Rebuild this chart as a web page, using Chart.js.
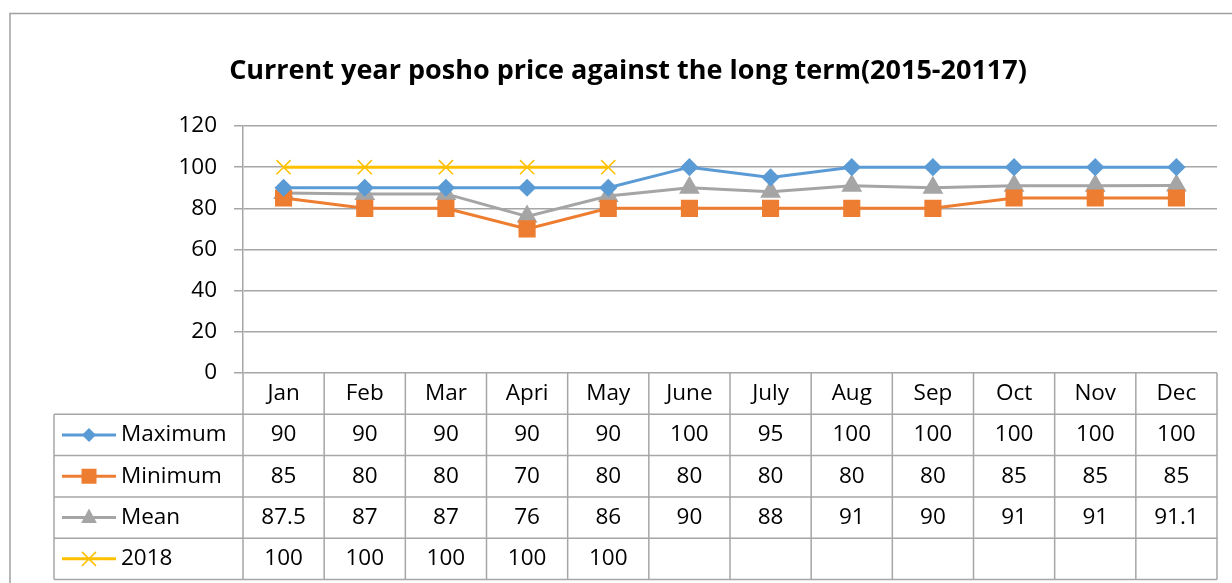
<!DOCTYPE html>
<html>
<head>
<meta charset="utf-8">
<script src="https://cdn.jsdelivr.net/npm/chart.js@4"></script>
<style>
  html, body { margin: 0; padding: 0; background: #fff; }
  #wrap { width: 1232px; height: 583px; }
</style>
</head>
<body>
<div id="wrap"><canvas id="lineChart" width="1232" height="583"></canvas></div>
<script>
const titleText = 'Current year posho price against the long term(2015-20117)';
const months = ['Jan', 'Feb', 'Mar', 'Apri', 'May', 'June', 'July', 'Aug', 'Sep', 'Oct', 'Nov', 'Dec'];
const maximum = [90, 90, 90, 90, 90, 100, 95, 100, 100, 100, 100, 100];
const minimum = [85, 80, 80, 70, 80, 80, 80, 80, 80, 85, 85, 85];
const mean = [87.5, 87, 87, 76, 86, 90, 88, 91, 90, 91, 91, 91.1];
const y2018 = [100, 100, 100, 100, 100, null, null, null, null, null, null, null];
const yTicks = [0, 20, 40, 60, 80, 100, 120];

const FONT = '"Open Sans", Lato, sans-serif';
const gridGray = '#a6a6a6';

// data table under the plot, drawn from the same arrays
const dataTable = {
    id: 'dataTable',
    beforeDraw(chart) {
        const c = chart.ctx;
        c.save();
        c.strokeStyle = '#a0a0a0';
        c.lineWidth = 1.5;
        c.strokeRect(10, 13.5, 1300, 700);
        c.fillStyle = '#000';
        c.font = 'bold 27px ' + FONT;
        c.textAlign = 'center';
        c.textBaseline = 'middle';
        c.fillText(titleText, 628, 71);
        c.restore();
    },
    afterDraw(chart) {
        const c = chart.ctx;
        const x = chart.scales.x;
        const area = chart.chartArea;
        const colW = (area.right - area.left) / months.length;
        const rowH = 41.3;
        const tableLeft = 54;
        const top = area.bottom;
        const rows = chart.data.datasets;
        const bottom = top + rowH * (rows.length + 1);

        c.save();
        c.strokeStyle = gridGray;
        c.lineWidth = 1.5;
        c.beginPath();
        // horizontal lines
        for (let r = 1; r <= rows.length + 1; r++) {
            const y = top + rowH * r;
            c.moveTo(tableLeft, y);
            c.lineTo(area.right, y);
        }
        // vertical lines
        c.moveTo(tableLeft, top + rowH);
        c.lineTo(tableLeft, bottom);
        for (let i = 0; i <= months.length; i++) {
            const xx = area.left + colW * i;
            c.moveTo(xx, top);
            c.lineTo(xx, bottom);
        }
        c.stroke();

        c.fillStyle = '#000';
        c.font = '22.5px ' + FONT;
        c.textBaseline = 'middle';
        c.textAlign = 'center';
        months.forEach((m, i) => {
            c.fillText(m, x.getPixelForValue(i), top + rowH / 2);
        });

        rows.forEach((ds, r) => {
            const cy = top + rowH * (r + 1.5);
            ds.data.forEach((v, i) => {
                if (v === null) return;
                c.fillText(String(v), x.getPixelForValue(i), cy);
            });
            // legend key
            c.strokeStyle = ds.borderColor;
            c.lineWidth = 3;
            c.beginPath();
            c.moveTo(62, cy);
            c.lineTo(116, cy);
            c.stroke();
            drawMarker(c, ds.pointStyle, 89, cy, ds.pointRadius, ds.borderColor);
            c.fillStyle = '#000';
            c.textAlign = 'left';
            c.fillText(ds.label, 121, cy);
            c.textAlign = 'center';
        });
        c.restore();
    }
};

function drawMarker(c, style, x, y, r, color) {
    c.save();
    c.fillStyle = color;
    c.strokeStyle = color;
    c.beginPath();
    if (style === 'rectRot') {
        c.moveTo(x, y - r); c.lineTo(x + r, y); c.lineTo(x, y + r); c.lineTo(x - r, y);
        c.closePath(); c.fill();
    } else if (style === 'rect') {
        c.fillRect(x - r * 0.75, y - r * 0.75, r * 1.5, r * 1.5);
    } else if (style === 'triangle') {
        c.moveTo(x, y - r); c.lineTo(x + r * 0.87, y + r * 0.6); c.lineTo(x - r * 0.87, y + r * 0.6);
        c.closePath(); c.fill();
    } else if (style === 'crossRot') {
        c.lineWidth = 1.5;
        c.moveTo(x - r * 0.7, y - r * 0.7); c.lineTo(x + r * 0.7, y + r * 0.7);
        c.moveTo(x + r * 0.7, y - r * 0.7); c.lineTo(x - r * 0.7, y + r * 0.7);
        c.stroke();
    }
    c.restore();
}

const ctx = document.getElementById('lineChart').getContext('2d');
new Chart(ctx, {
    type: 'line',
    data: {
        labels: months,
        datasets: [{
            label: 'Maximum',
            data: maximum,
            borderColor: '#5b9bd5',
            backgroundColor: '#5b9bd5',
            pointStyle: 'rectRot',
            pointRadius: 7
        }, {
            label: 'Minimum',
            data: minimum,
            borderColor: '#ed7d31',
            backgroundColor: '#ed7d31',
            pointStyle: 'rect',
            pointRadius: 10
        }, {
            label: 'Mean',
            data: mean,
            borderColor: '#a5a5a5',
            backgroundColor: '#a5a5a5',
            pointStyle: 'triangle',
            pointRadius: 9
        }, {
            label: '2018',
            data: y2018,
            borderColor: '#ffc000',
            backgroundColor: '#ffc000',
            pointStyle: 'crossRot',
            pointRadius: 10,
            pointBorderWidth: 1.5
        }]
    },
    options: {
        responsive: false,
        animation: false,
        datasets: { line: { borderWidth: 3, tension: 0, fill: false, spanGaps: false } },
        layout: { padding: { left: 0, right: 15, top: 126, bottom: 210 } },
        plugins: {
            legend: { display: false },
            title: { display: false },
            tooltip: { enabled: false }
        },
        scales: {
            x: {
                display: false,
                offset: true
            },
            y: {
                min: 0,
                max: 120,
                afterFit: s => { s.width = 243; },
                afterBuildTicks: s => { s.ticks = yTicks.map(v => ({ value: v })); },
                grid: { color: gridGray, lineWidth: 1.5, tickLength: 9 },
                border: { color: gridGray, width: 1.5 },
                ticks: { color: '#000', padding: 17, font: { family: FONT, size: 22.5 } }
            }
        }
    },
    plugins: [dataTable]
});
</script>
</body>
</html>
